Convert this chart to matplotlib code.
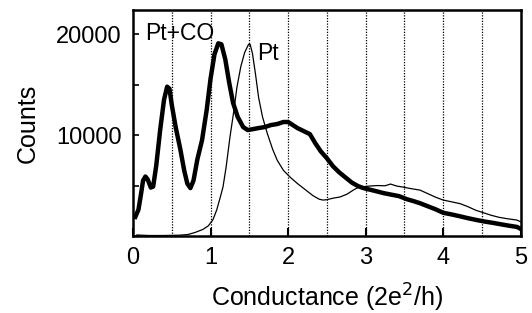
import matplotlib

matplotlib.use("Agg")
import matplotlib.pyplot as plt
from matplotlib.ticker import MultipleLocator

plt.rcParams["font.family"] = ["Liberation Sans", "DejaVu Sans"]

# Pt+CO histogram (thick line)
ptco_g = [0.03, 0.07, 0.10, 0.13, 0.16, 0.19, 0.23, 0.26, 0.30, 0.35, 0.40, 0.44,
          0.47, 0.50, 0.55, 0.61, 0.66, 0.70, 0.74, 0.78, 0.83, 0.89, 0.95, 1.00,
          1.05, 1.10, 1.14, 1.19, 1.24, 1.29, 1.35, 1.42, 1.48, 1.55, 1.62, 1.70,
          1.78, 1.86, 1.94, 2.00, 2.06, 2.12, 2.20, 2.28, 2.35, 2.42, 2.50, 2.58,
          2.66, 2.74, 2.82, 2.90, 2.97, 3.05, 3.13, 3.23, 3.33, 3.43, 3.53, 3.62,
          3.70, 3.80, 3.90, 4.00, 4.10, 4.20, 4.31, 4.42, 4.52, 4.65, 4.75, 4.85,
          4.95, 5.00]
ptco_counts = [1900, 2600, 4000, 5500, 5900, 5600, 4800, 4900, 7000, 10500, 13500, 14800,
               14600, 13000, 10800, 8600, 6500, 5200, 4750, 5500, 7600, 9500, 12500, 15600,
               18000, 19100, 19000, 17500, 15200, 13200, 11800, 10800, 10500, 10600, 10700, 10800,
               11000, 11100, 11300, 11300, 11000, 10700, 10400, 10100, 9200, 8400, 7700, 6900,
               6300, 5800, 5300, 4950, 4750, 4600, 4450, 4250, 4100, 3950, 3650, 3450,
               3250, 2950, 2650, 2300, 2150, 1980, 1780, 1600, 1450, 1290, 1150, 1020,
               900, 700]

# clean Pt histogram (thin line)
pt_g = [0.05, 0.20, 0.40, 0.60, 0.71, 0.80, 0.90, 0.97, 1.03, 1.08, 1.12, 1.16,
        1.20, 1.25, 1.30, 1.34, 1.39, 1.44, 1.49, 1.51, 1.54, 1.58, 1.62, 1.67,
        1.73, 1.80, 1.86, 1.94, 2.03, 2.12, 2.22, 2.32, 2.40, 2.45, 2.50, 2.58,
        2.67, 2.76, 2.84, 2.90, 2.95, 3.05, 3.15, 3.25, 3.32, 3.40, 3.48, 3.58,
        3.70, 3.80, 3.90, 4.00, 4.10, 4.22, 4.32, 4.42, 4.52, 4.62, 4.72, 4.82,
        4.95, 5.00]
pt_counts = [100, 50, 50, 80, 150, 350, 650, 1000, 1600, 2600, 3700, 4850,
             6800, 9800, 12400, 14750, 16800, 18200, 19000, 19000, 18100, 16000, 13700, 11800,
             10200, 8600, 7500, 6500, 5800, 5200, 4600, 4000, 3650, 3560, 3600, 3750,
             3870, 4150, 4550, 4800, 4870, 4950, 5000, 4980, 5150, 4950, 4850, 4700,
             4550, 4200, 3850, 3560, 3400, 3200, 2900, 2550, 2300, 2050, 1850, 1720,
             1580, 1400]

grid_g = [0.5, 1.0, 1.5, 2.0, 2.5, 3.0, 3.5, 4.0, 4.5]


def main():
    fig = plt.figure(figsize=(5.32, 3.13), dpi=100)
    ax = fig.add_axes([0.25, 0.246, 0.729, 0.722])

    for g in grid_g:
        ax.axvline(g, color="black", linestyle=(0, (1, 1.2)), linewidth=0.9, zorder=1)

    ax.plot(pt_g, pt_counts, color="black", linewidth=0.9, zorder=2)
    ax.plot(ptco_g, ptco_counts, color="black", linewidth=3.2, zorder=3)

    ax.text(0.16, 20100, "Pt+CO", fontsize=16.5, va="center", ha="left")
    ax.text(1.60, 18100, "Pt", fontsize=16.5, va="center", ha="left")

    ax.set_xlim(0, 5)
    ax.set_ylim(0, 22400)
    ax.xaxis.set_major_locator(MultipleLocator(1))
    ax.yaxis.set_minor_locator(MultipleLocator(5000))
    ax.set_yticks([10000, 20000])
    ax.tick_params(axis="x", direction="in", length=6, width=1.5, labelsize=17, pad=8)
    ax.tick_params(axis="y", direction="in", length=4, width=1.2, labelsize=17, pad=8)
    ax.tick_params(axis="y", which="minor", direction="in", length=4, width=1.2)

    for spine in ax.spines.values():
        spine.set_linewidth(1.8)

    ax.set_xlabel("Conductance (2e$^2$/h)", fontsize=18, labelpad=9)
    ax.set_ylabel("Counts", fontsize=18, labelpad=12)

    fig.savefig("out.png", dpi=100)
    plt.close(fig)


if __name__ == "__main__":
    main()
